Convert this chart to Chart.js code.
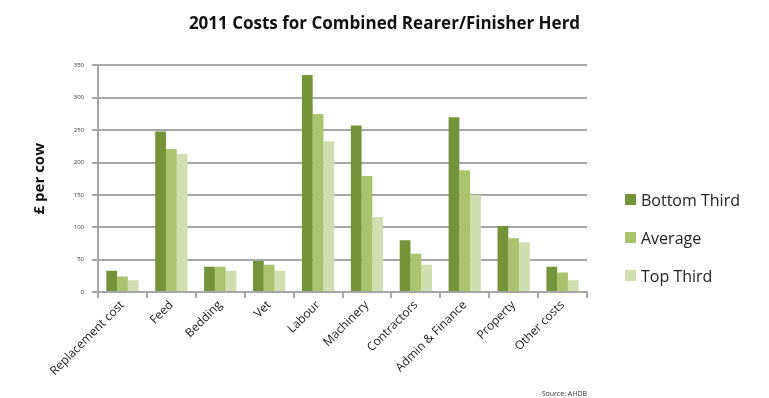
<!DOCTYPE html>
<html>
<head>
<meta charset="utf-8">
<script src="https://cdn.jsdelivr.net/npm/chart.js@4.4.1/dist/chart.umd.min.js"></script>
<style>
  html, body { margin: 0; padding: 0; background: #fff; }
  #wrap { position: relative; width: 769px; height: 398px; }
  #legend { position: absolute; left: 625px; top: 188px; font-family: "Open Sans", sans-serif; font-size: 16px; color: #222; }
  #legend div { height: 38px; line-height: 24px; white-space: nowrap; }
  #legend span.box { display: inline-block; width: 11px; height: 11px; margin-right: 5px; vertical-align: 1px; }
</style>
</head>
<body>
<div id="wrap">
  <canvas id="c" width="769" height="398"></canvas>
  <div id="legend"></div>
</div>
<script>
// values, £ per cow
const categories = ["Replacement cost", "Feed", "Bedding", "Vet", "Labour", "Machinery", "Contractors", "Admin & Finance", "Property", "Other costs"];
const bottomThird = [33, 248, 39, 48, 335, 257, 80, 270, 102, 39];
const average = [24, 221, 39, 42, 275, 179, 59, 188, 83, 30];
const topThird = [18, 213, 33, 33, 233, 116, 42, 150, 77, 18];
const seriesNames = ["Bottom Third", "Average", "Top Third"];
const seriesColors = ["#74943a", "#a9c46c", "#d1dfb0"];
const yTicks = [0, 50, 100, 150, 200, 250, 300, 350];

const FONT = "'Open Sans', sans-serif";
const GRID = "#a6a6a6";

// small note under the plot, bottom right
const sourceNote = {
    id: "sourceNote",
    afterDraw(chart) {
        const c = chart.ctx;
        c.save();
        c.font = "7px " + FONT;
        c.fillStyle = "#333";
        c.textAlign = "right";
        c.textBaseline = "bottom";
        c.fillText("Source: AHDB", chart.chartArea.right, chart.height - 1);
        c.restore();
    }
};

const allSeries = [bottomThird, average, topThird];

new Chart(document.getElementById("c"), {
    type: "bar",
    data: {
        labels: categories,
        datasets: allSeries.map((vals, i) => ({
            label: seriesNames[i],
            data: vals,
            backgroundColor: seriesColors[i],
            borderWidth: 0,
            barPercentage: 1.0,
            categoryPercentage: 0.66
        }))
    },
    options: {
        responsive: false,
        animation: false,
        layout: { padding: 0 },
        plugins: {
            legend: { display: false },
            tooltip: { enabled: false },
            title: {
                display: true,
                text: "2011 Costs for Combined Rearer/Finisher Herd",
                font: { family: FONT, size: 17, weight: "bold" },
                color: "#111",
                padding: { top: 14, bottom: 31 }
            }
        },
        scales: {
            x: {
                grid: { display: true, drawOnChartArea: false, color: GRID, lineWidth: 2, tickLength: 6, offset: true },
                border: { color: GRID, width: 2 },
                ticks: {
                    font: { family: FONT, size: 12 },
                    color: "#222",
                    minRotation: 45,
                    maxRotation: 45,
                    autoSkip: false,
                    padding: 0
                },
                afterFit(s) { s.height = 106; }
            },
            y: {
                min: 0,
                max: 350,
                afterBuildTicks(s) { s.ticks = yTicks.map(v => ({ value: v })); },
                grid: { color: GRID, lineWidth: 2, tickLength: 6 },
                border: { color: GRID, width: 2 },
                ticks: {
                    font: { family: FONT, size: 6 },
                    color: "#333",
                    padding: 8
                },
                title: {
                    display: true,
                    text: "£ per cow",
                    font: { family: FONT, size: 15, weight: "bold" },
                    color: "#111",
                    padding: { top: 31, bottom: 0 }
                },
                afterFit(s) { s.width = 98; }
            },
            // empty right-hand box that reserves room for the legend
            spacer: {
                type: "linear",
                position: "right",
                grid: { display: false },
                border: { display: false },
                ticks: { display: false },
                afterFit(s) { s.width = 182; }
            }
        }
    },
    plugins: [sourceNote]
});

const legend = document.getElementById("legend");
seriesNames.forEach((name, i) => {
    const row = document.createElement("div");
    row.innerHTML = '<span class="box" style="background:' + seriesColors[i] + '"></span>' + name;
    legend.appendChild(row);
});
</script>
</body>
</html>
